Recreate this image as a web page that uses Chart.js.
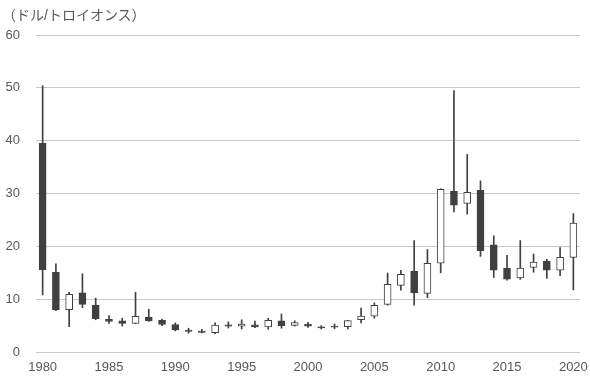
<!DOCTYPE html>
<html>
<head>
<meta charset="utf-8">
<script src="https://cdn.jsdelivr.net/npm/chart.js@4/dist/chart.umd.min.js"></script>
<style>
  html, body { margin: 0; padding: 0; background: #fff; }
  #wrap { position: relative; width: 590px; height: 380px; }
  #unit { position: absolute; left: 2px; top: 4px; font-family: "Liberation Sans", "Noto Sans CJK JP", sans-serif; font-size: 14px; color: #595959; white-space: nowrap; }
  canvas { display: block; }
</style>
</head>
<body>
<div id="wrap">
  <canvas id="c" width="590" height="380"></canvas>
  <div id="unit">（ドル/トロイオンス）</div>
</div>
<script>
const years = [1980,1981,1982,1983,1984,1985,1986,1987,1988,1989,1990,1991,1992,1993,1994,1995,1996,1997,1998,1999,2000,2001,2002,2003,2004,2005,2006,2007,2008,2009,2010,2011,2012,2013,2014,2015,2016,2017,2018,2019,2020];
const openVals  = [39.5,15.1, 8.0,11.2, 8.9,6.2,5.9, 5.4,6.6,6.0,5.2,4.15,3.95,3.65,5.15,4.88,5.15,4.75,5.9,5.05,5.3,4.75,4.85,4.8,6.1,6.8, 9.0,12.6,15.3,11.1,16.8,30.4,28.1,30.6,20.3,15.85,14.0,16.0,17.2,15.5,17.9];
const highVals  = [50.4,16.7,11.3,14.8,10.2,6.9,6.4,11.3,8.1,6.25,5.5,4.5,4.3,5.5,5.7,6.1,5.85,6.4,7.2,5.9,5.6,5.0,5.3,6.0,8.3,9.3,14.95,15.45,21.1,19.4,30.9,49.5,37.4,32.4,22.0,18.3,21.1,18.55,17.55,19.75,26.2];
const lowVals   = [10.8, 7.8, 4.8, 8.4, 6.1,5.4,4.9, 5.35,5.8,5.0,4.0,3.55,3.6,3.45,4.55,4.35,4.6,4.3,4.5,4.9,4.65,4.35,4.4,4.35,5.5,6.4,8.85,11.7,8.85,10.3,15.0,26.5,26.1,18.1,14.1,13.6,13.75,15.1,13.95,14.45,11.75];
const closeVals = [15.6, 8.0,10.9, 9.0, 6.3,5.8,5.4, 6.75,5.9,5.2,4.2,3.9,3.7,5.1,4.9,5.3,4.75,6.0,5.0,5.55,4.9,4.55,4.7,5.95,6.8,8.85,12.8,14.7,11.2,16.8,30.8,27.8,30.2,19.2,15.5,13.8,15.9,17.0,15.5,17.9,24.4];
const yTicks = [0,10,20,30,40,50,60];

const dark = '#404040';
const bodies = years.map((y,i) => [openVals[i], closeVals[i]]);
const wicks = years.map((y,i) => [lowVals[i], highVals[i]]);
const bodyFill = years.map((y,i) => closeVals[i] >= openVals[i] ? '#ffffff' : dark);

new Chart(document.getElementById('c'), {
  type: 'bar',
  data: {
    labels: years.map(String),
    datasets: [
      { data: bodies, backgroundColor: bodyFill, borderColor: dark, borderWidth: 1, borderSkipped: false, barThickness: 7, grouped: false },
      { data: wicks, backgroundColor: dark, borderWidth: 0, barThickness: 1, grouped: false }
    ]
  },
  options: {
    responsive: false,
    animation: false,
    layout: { padding: { top: 35, right: 10, left: 0, bottom: 0 } },
    plugins: { legend: { display: false }, tooltip: { enabled: false }, title: { display: false } },
    scales: {
      x: {
        offset: true,
        grid: { display: false, drawTicks: false },
        border: { display: false },
        afterFit: s => { s.height = 28; s.paddingLeft = 0; s.paddingRight = 0; },
        ticks: {
          autoSkip: false, maxRotation: 0, padding: 8,
          color: '#595959', font: { family: '"Liberation Sans", sans-serif', size: 13 },
          callback: function(v, i) { const y = years[i]; return y % 5 === 0 ? String(y) : ''; }
        }
      },
      y: {
        min: 0, max: 60,
        afterBuildTicks: s => { s.ticks = yTicks.map(v => ({ value: v })); },
        afterFit: s => { s.width = 36; },
        grid: { color: '#c8c8c8', lineWidth: 1, drawTicks: false },
        border: { display: false },
        ticks: { padding: 16, color: '#595959', font: { family: '"Liberation Sans", sans-serif', size: 13 } }
      }
    }
  }
});
</script>
</body>
</html>
